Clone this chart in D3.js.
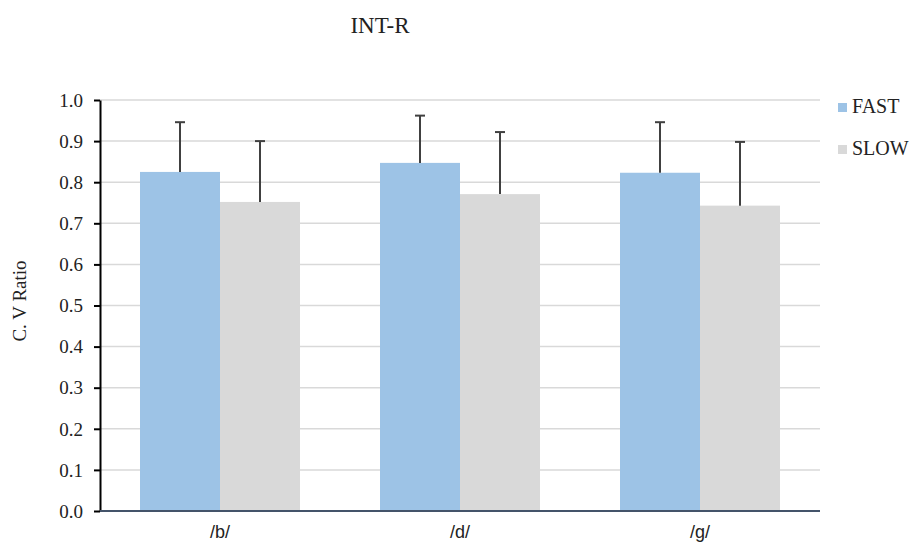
<!DOCTYPE html>
<html><head><meta charset="utf-8">
<script src="https://cdn.jsdelivr.net/npm/d3@7"></script>
<style>body{margin:0;background:#fff}</style>
</head><body>
<svg id="c" width="913" height="544"></svg>
<script>
const categories = ["/b/", "/d/", "/g/"];
const seriesNames = ["FAST", "SLOW"];
const fastValues = [0.825, 0.847, 0.823];
const slowValues = [0.752, 0.771, 0.743];
const fastErrors = [0.121, 0.115, 0.123];
const slowErrors = [0.148, 0.151, 0.155];
const yTicks = [0,0.1,0.2,0.3,0.4,0.5,0.6,0.7,0.8,0.9,1.0];
const colors = {FAST:"#9dc3e6", SLOW:"#d9d9d9"};

const svg = d3.select("#c");
const L=100, R=820, T=100, B=511;
const x = d3.scaleBand().domain(categories).range([L,R]).paddingInner(1/3).paddingOuter(1/6);
const xs = d3.scaleBand().domain(seriesNames).range([0,x.bandwidth()]);
const y = d3.scaleLinear().domain([0,1]).range([B,T]);

svg.append("g").selectAll("line").data(yTicks.slice(1)).join("line")
  .attr("x1",L).attr("x2",R).attr("y1",d=>y(d)).attr("y2",d=>y(d))
  .attr("stroke","#d9d9d9").attr("stroke-width",1.5);

const data = [];
categories.forEach((c,i)=>{
  data.push({c, s:"FAST", v:fastValues[i], e:fastErrors[i]});
  data.push({c, s:"SLOW", v:slowValues[i], e:slowErrors[i]});
});
svg.append("g").selectAll("rect").data(data).join("rect")
  .attr("x",d=>x(d.c)+xs(d.s)).attr("width",xs.bandwidth())
  .attr("y",d=>y(d.v)).attr("height",d=>B-y(d.v)).attr("fill",d=>colors[d.s]);

const eb = svg.append("g").attr("stroke","#404040").attr("stroke-width",2);
data.forEach(d=>{
  const cx = x(d.c)+xs(d.s)+xs.bandwidth()/2;
  eb.append("line").attr("x1",cx).attr("x2",cx).attr("y1",y(d.v)).attr("y2",y(d.v+d.e));
  eb.append("line").attr("x1",cx-5).attr("x2",cx+5).attr("y1",y(d.v+d.e)).attr("y2",y(d.v+d.e));
});

// y axis
const ya = svg.append("g").attr("transform",`translate(${L},0)`)
  .call(d3.axisLeft(y).tickValues(yTicks).tickFormat(d3.format(".1f")).tickSize(6).tickSizeOuter(0));
ya.select(".domain").attr("stroke","#000").attr("stroke-width",2);
ya.selectAll(".tick line").attr("stroke","#000").attr("stroke-width",2);
ya.selectAll("text").attr("font-family","Liberation Serif").attr("font-size",19).attr("fill","#222").attr("x",-17).attr("dy","0.33em");

// x axis
const xa = svg.append("g").attr("transform",`translate(0,${B})`)
  .call(d3.axisBottom(x).tickSize(0).tickPadding(0));
xa.select(".domain").attr("stroke","#44546a").attr("stroke-width",2).attr("d",`M${L},0H${R}`);
xa.selectAll("text").attr("font-family","Liberation Sans").attr("font-size",18).attr("fill","#222").attr("dy",null).attr("y",27);

svg.append("text").attr("x",380).attr("y",33).attr("text-anchor","middle")
  .attr("font-family","Liberation Serif").attr("font-size",23).attr("fill","#222").text("INT-R");

svg.append("text").attr("transform",`translate(26,${301}) rotate(-90)`).attr("text-anchor","middle")
  .attr("font-family","Liberation Serif").attr("font-size",19).attr("fill","#222").text("C. V Ratio");

const lg = svg.append("g");
seriesNames.forEach((s,i)=>{
  const by = 113 + i*42;
  lg.append("rect").attr("x",838).attr("y",by-10).attr("width",9).attr("height",9).attr("fill",colors[s]);
  lg.append("text").attr("x",852).attr("y",by).attr("font-family","Liberation Serif").attr("font-size",20).attr("fill","#222").text(s);
});
</script>
</body></html>
